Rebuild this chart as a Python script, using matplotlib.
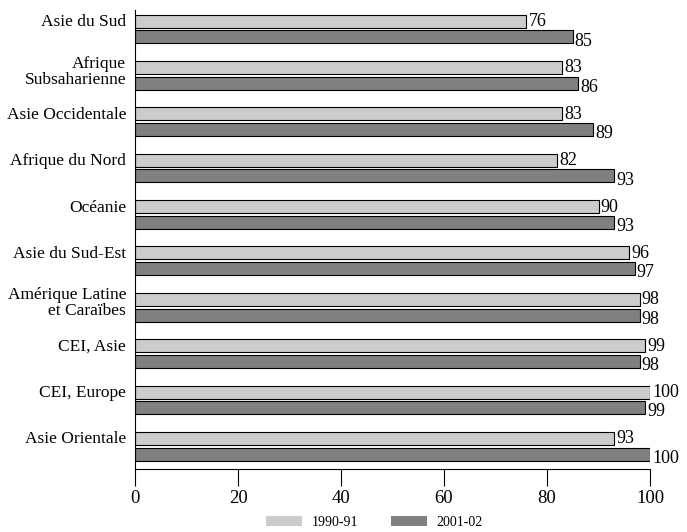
import matplotlib
matplotlib.use("Agg")
import matplotlib.pyplot as plt
from matplotlib.patches import Patch
import numpy as np

categories = ["Asie du Sud", "Afrique\nSubsaharienne", "Asie Occidentale", "Afrique du Nord",
              "Océanie", "Asie du Sud-Est", "Amérique Latine\net Caraïbes", "CEI, Asie",
              "CEI, Europe", "Asie Orientale"]
v1990 = [76, 83, 83, 82, 90, 96, 98, 99, 100, 93]
v2001 = [85, 86, 89, 93, 93, 97, 98, 98, 99, 100]
series_labels = ["1990-91", "2001-02"]
xticks = [0, 20, 40, 60, 80, 100]

plt.rcParams['font.family'] = ['Liberation Serif', 'DejaVu Serif']

fig = plt.figure(figsize=(6.87, 5.32), dpi=100)
ax = fig.add_axes([135/687, 1-469/532, (650-135)/687, (469-10)/532])

y = np.arange(len(categories))
h = 0.28
off = 0.17
light = "#cccccc"
dark = "#808080"
ax.barh(y - off, v1990, height=h, color=light, edgecolor="black", linewidth=0.8)
ax.barh(y + off, v2001, height=h, color=dark, edgecolor="black", linewidth=0.8)

for yi, a, b in zip(y, v1990, v2001):
    ax.text(a + 0.4, yi - off + 0.01, str(a), va="center", ha="left", fontsize=13)
    ax.text(b + 0.4, yi + off + 0.09, str(b), va="center", ha="left", fontsize=13)

ax.set_ylim(9.49, -0.41)
ax.set_xlim(0, 100)
ax.set_yticks([])
for yi, c in zip(y, categories):
    ypos = yi - 0.08 if "\n" in c else yi - off + 0.02
    ax.text(-1.7, ypos, c, ha="right", va="center", fontsize=12.5,
            linespacing=1.0, multialignment="right")
ax.set_xticks(xticks)
ax.set_xticklabels([str(t) for t in xticks], fontsize=13.5)
ax.tick_params(axis="x", direction="out", length=12, width=0.8, pad=3)
for s in ["top", "right"]:
    ax.spines[s].set_visible(False)
ax.spines["left"].set_linewidth(0.8)
ax.spines["bottom"].set_linewidth(0.8)

handles = [Patch(facecolor=light, edgecolor="none"), Patch(facecolor=dark, edgecolor="none")]
fig.legend(handles, series_labels, loc="center", bbox_to_anchor=(0.545, 0.018), ncol=2,
           frameon=False, fontsize=10, handlelength=2.6, handleheight=0.8,
           columnspacing=2.4, handletextpad=0.65, borderpad=0, borderaxespad=0)

fig.savefig("out.png", dpi=100)
